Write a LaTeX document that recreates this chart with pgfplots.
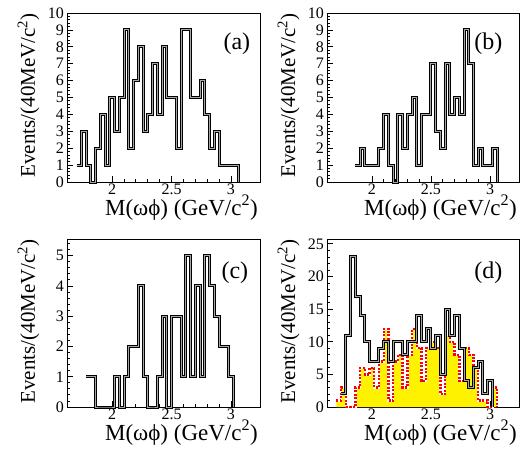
\documentclass[border=0pt]{standalone}
\usepackage{fontspec}
\setmainfont{Liberation Serif}
\usepackage{pgfplots}
\pgfplotsset{compat=1.18}
\tikzset{tag/.style={font=\fontsize{24}{24}\selectfont}}
\begin{document}
\begin{tikzpicture}
\pgfplotsset{
  panel/.style={scale only axis, width=193pt, height=169pt, anchor=south west,
    xmin=1.62, xmax=3.245, ymin=0,
    axis line style={line width=0.9pt},
    tick align=inside, xtick pos=bottom, ytick pos=left,
    xtick={2,2.5,3}, minor x tick num=4,
    major tick length=6pt, minor tick length=3pt,
    every tick/.style={black, line width=0.8pt},
    /pgf/number format/assume math mode=true,
    tick label style={font=\fontsize{16}{16}\selectfont},
    xticklabel style={inner sep=2pt},
    yticklabel style={inner sep=3pt},
    xlabel={M(ωϕ) (GeV/c\textsuperscript{2})},
    ylabel={Events/(40MeV/c\textsuperscript{2})},
    xlabel style={font=\fontsize{23}{23}\selectfont, at={(axis description cs:1,0)}, anchor=base east, inner sep=0pt, yshift=-33pt, xshift=-2pt},
    ylabel style={font=\fontsize{21}{21}\selectfont, at={(axis description cs:0,1)}, anchor=base east, inner sep=0pt, yshift=32pt},
    clip=false},
  hist/.style={const plot mark left, black, line width=1pt, double=black!35, double distance=1pt}
}
% (a)
\begin{axis}[panel, at={(67pt,266pt)}, ymax=10, ytick distance=1, minor y tick num=4]
\addplot[hist] coordinates {(1.70,1)(1.74,3)(1.78,1)(1.82,0)(1.86,2)(1.90,4)(1.94,1)(1.98,5)(2.02,3)(2.06,5)
(2.10,9)(2.14,2)(2.18,6)(2.22,8)(2.26,3)(2.30,4)(2.34,7)(2.38,4)(2.42,8)(2.46,5)(2.50,5)(2.54,2)(2.58,9)(2.62,9)
(2.66,5)(2.70,5)(2.74,6)(2.78,4)(2.82,2)(2.86,3)(2.90,1)(2.94,1)(2.98,1)(3.02,1)(3.06,0)};
\node[tag] at (rel axis cs:0.88,0.82) {(a)};
\end{axis}
% (b)
\begin{axis}[panel, at={(327pt,266pt)}, width=192pt, ymax=10, ytick distance=1, minor y tick num=4]
\addplot[hist] coordinates {(1.86,1)(1.90,2)(1.94,1)(1.98,1)(2.02,1)(2.06,2)(2.10,4)(2.14,1)(2.18,0)(2.22,4)
(2.26,2)(2.30,4)(2.34,5)(2.38,1)(2.42,4)(2.46,4)(2.50,7)(2.54,3)(2.58,2)(2.62,7)(2.66,4)(2.70,5)(2.74,4)(2.78,9)
(2.82,7)(2.86,1)(2.90,2)(2.94,1)(2.98,1)(3.02,2)(3.06,0)};
\node[tag] at (rel axis cs:0.84,0.82) {(b)};
\end{axis}
% (c)
\begin{axis}[panel, at={(67pt,41pt)}, height=168pt, ymax=5.55, ytick distance=1, minor y tick num=4]
\addplot[hist] coordinates {(1.78,1)(1.82,1)(1.86,0)(1.90,0)(1.94,0)(1.98,0)(2.02,1)(2.06,0)(2.10,1)(2.14,2)
(2.18,2)(2.22,4)(2.26,1)(2.30,0)(2.34,0)(2.38,1)(2.42,3)(2.46,0)(2.50,3)(2.54,3)(2.58,1)(2.62,5)(2.66,1)(2.70,4)
(2.74,1)(2.78,5)(2.82,4)(2.86,3)(2.90,2)(2.94,2)(2.98,1)(3.02,0)};
\node[tag] at (rel axis cs:0.87,0.8) {(c)};
\end{axis}
% (d)
\begin{axis}[panel, at={(327pt,41pt)}, width=192pt, height=168pt, ymax=25.75, ytick distance=5, minor y tick num=4]
\addplot[const plot mark left, fill=yellow, draw=none] coordinates {(1.70,1)(1.74,3)(1.78,0)(1.82,0)(1.86,3)(1.90,6)(1.94,5)(1.98,6)
(2.02,3)(2.06,7)(2.10,12)(2.14,1)(2.18,7)(2.22,8)(2.26,3)(2.30,8)(2.34,12)(2.38,9)(2.42,4)(2.46,9)(2.50,10)(2.54,9)
(2.58,2)(2.62,11)(2.66,10)(2.70,8)(2.74,4)(2.78,9)(2.82,8)(2.86,6)(2.90,1)(2.94,1)(2.98,0)(3.02,3)(3.06,0)} \closedcycle;
\addplot[const plot mark left, white, line width=2.4pt] coordinates {(1.70,1)(1.74,3)(1.78,0)(1.82,0)(1.86,3)(1.90,6)(1.94,5)(1.98,6)
(2.02,3)(2.06,7)(2.10,12)(2.14,1)(2.18,7)(2.22,8)(2.26,3)(2.30,8)(2.34,12)(2.38,9)(2.42,4)(2.46,9)(2.50,10)(2.54,9)
(2.58,2)(2.62,11)(2.66,10)(2.70,8)(2.74,4)(2.78,9)(2.82,8)(2.86,6)(2.90,1)(2.94,1)(2.98,0)(3.02,3)(3.06,0)};
\addplot[const plot mark left, red, line width=2.4pt, dash pattern=on 2pt off 1.5pt] coordinates {(1.70,1)(1.74,3)(1.78,0)(1.82,0)(1.86,3)(1.90,6)(1.94,5)(1.98,6)
(2.02,3)(2.06,7)(2.10,12)(2.14,1)(2.18,7)(2.22,8)(2.26,3)(2.30,8)(2.34,12)(2.38,9)(2.42,4)(2.46,9)(2.50,10)(2.54,9)
(2.58,2)(2.62,11)(2.66,10)(2.70,8)(2.74,4)(2.78,9)(2.82,8)(2.86,6)(2.90,1)(2.94,1)(2.98,0)(3.02,3)(3.06,0)};
\addplot[hist] coordinates {(1.74,2)(1.78,11)(1.82,23)(1.86,17)(1.90,14)(1.94,10)(1.98,7)(2.02,7)(2.06,9)(2.10,10)
(2.14,7)(2.18,10)(2.22,10)(2.26,8)(2.30,10)(2.34,10)(2.38,14)(2.42,10)(2.46,12)(2.50,9)(2.54,11)(2.58,5)(2.62,15)
(2.66,11)(2.70,14)(2.74,9)(2.78,4)(2.82,3)(2.86,6)(2.90,7)(2.94,2)(2.98,4)(3.02,0)};
\node[tag] at (rel axis cs:0.84,0.8) {(d)};
\end{axis}
\pgfresetboundingbox
\useasboundingbox (0pt,0pt) rectangle (522pt,448pt);
\end{tikzpicture}
\end{document}
